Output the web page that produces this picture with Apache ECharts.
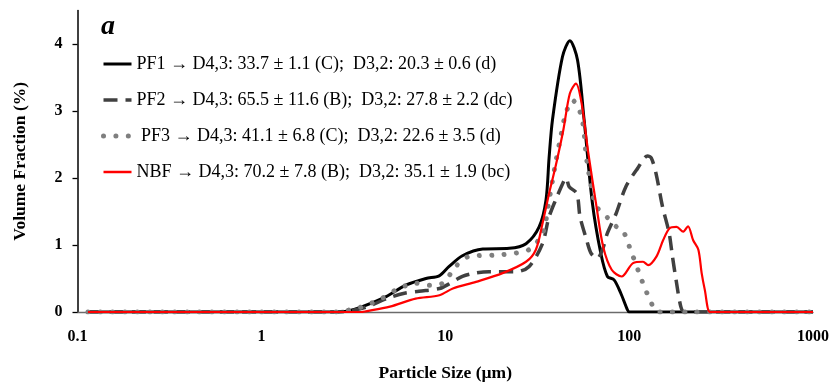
<!DOCTYPE html>
<html>
<head>
<meta charset="utf-8">
<script src="https://cdn.jsdelivr.net/npm/echarts@6/dist/echarts.min.js"></script>
<style>
html,body{margin:0;padding:0;background:#fff;}
#chart{width:832px;height:382px;}
</style>
</head>
<body>
<div id="chart"></div>
<script>
// ---- data ----
const seriesNames = [
  'PF1 \u2192 D4,3: 33.7 \u00b1 1.1 (C);  D3,2: 20.3 \u00b1 0.6 (d)',
  'PF2 \u2192 D4,3: 65.5 \u00b1 11.6 (B);  D3,2: 27.8 \u00b1 2.2 (dc)',
  ' PF3 \u2192 D4,3: 41.1 \u00b1 6.8 (C);  D3,2: 22.6 \u00b1 3.5 (d)',
  'NBF \u2192 D4,3: 70.2 \u00b1 7.8 (B);  D3,2: 35.1 \u00b1 1.9 (bc)'
];
const xTickLabels = ['0.1', '1', '10', '100', '1000'];
const yTickValues = [0, 1, 2, 3, 4];

const pf1Size = [0.114, 2.6, 3.0, 3.54, 4.77, 6.1, 7.85, 9.27, 10.5, 12.4, 16.0, 22.3, 27.5, 32.4, 35.3, 36.7, 38.3, 43.4, 47.6, 52.4, 56.9, 63.1, 70.1, 76.2, 82.8, 90.1, 98, 100, 110, 1000];
const pf1Vol  = [0, 0, 0.02, 0.08, 0.23, 0.40, 0.50, 0.54, 0.68, 0.84, 0.94, 0.95, 1.02, 1.27, 1.67, 2.30, 2.87, 3.81, 4.05, 3.76, 2.87, 1.63, 0.88, 0.53, 0.48, 0.28, 0.03, 0, 0, 0];

const pf2Size = [0.114, 2.6, 3.2, 3.8, 4.8, 6.0, 7.2, 9.3, 10.5, 12.4, 14.5, 17.3, 24.2, 28.6, 33.8, 36.5, 39.8, 44.4, 45.4, 47.2, 51.9, 54.1, 58.8, 62, 67, 72, 76, 85, 96, 111, 126, 132, 140, 152, 165, 172, 180, 191, 200, 220, 1000];
const pf2Vol  = [0, 0, 0.03, 0.08, 0.2, 0.28, 0.31, 0.35, 0.42, 0.53, 0.58, 0.60, 0.60, 0.68, 1.02, 1.4, 1.67, 1.97, 2.0, 1.87, 1.77, 1.42, 1.07, 0.88, 0.80, 0.95, 1.17, 1.47, 1.87, 2.14, 2.33, 2.3, 2.07, 1.57, 1.18, 0.83, 0.48, 0.08, 0, 0, 0];

const pf3Size = [0.114, 2.5, 3.0, 3.54, 4.5, 5.4, 6.9, 8.2, 9.7, 11.4, 13.5, 18.8, 24.2, 28.5, 33.8, 36.7, 39.8, 42.5, 45.3, 49.2, 55.2, 58.8, 63.8, 66.5, 75.5, 85.5, 93, 98.9, 105, 114.5, 122, 130, 138, 145, 160, 1000];
const pf3Vol  = [0, 0, 0.03, 0.08, 0.2, 0.33, 0.43, 0.40, 0.43, 0.68, 0.83, 0.85, 0.88, 0.93, 1.17, 1.67, 2.22, 2.62, 2.97, 3.16, 2.91, 2.27, 1.72, 1.57, 1.42, 1.27, 1.20, 1.02, 0.83, 0.55, 0.35, 0.18, 0.03, 0, 0, 0];

const nbfSize = [0.114, 3.5, 3.7, 5.0, 6.9, 9.3, 11, 14.7, 20.5, 27.5, 31.1, 33.8, 36.7, 39.8, 43.9, 47.6, 51.4, 55.2, 60, 66.5, 72.3, 80.4, 91, 105, 119, 127, 141, 153, 166, 181, 197, 209, 223, 238, 248, 258, 275, 300, 1000];
const nbfVol  = [0, 0, 0.01, 0.08, 0.2, 0.25, 0.35, 0.45, 0.58, 0.75, 0.93, 1.32, 1.77, 2.17, 2.72, 3.26, 3.41, 3.11, 2.37, 1.57, 0.97, 0.63, 0.53, 0.73, 0.75, 0.70, 0.83, 1.07, 1.25, 1.27, 1.20, 1.28, 1.07, 0.93, 0.58, 0.33, 0, 0, 0];

function pairs(xs, ys) { return xs.map((x, i) => [x, ys[i]]); }

const serif = 'Liberation Serif';
const chart = echarts.init(document.getElementById('chart'), null, {renderer: 'canvas'});

const legendWidths = [3, 3.5, 5, 2.5];

chart.setOption({
  animation: false,
  backgroundColor: '#fff',
  title: {
    text: 'a',
    left: 96,
    top: 8,
    textStyle: {fontFamily: serif, fontStyle: 'italic', fontWeight: 'bold', fontSize: 28, color: '#000'}
  },
  grid: {left: 77.5, right: 19, top: 10.5, bottom: 70, containLabel: false, outerBoundsMode: 'none'},
  legend: {
    orient: 'vertical',
    left: 101,
    top: 54,
    padding: 0,
    itemWidth: 28,
    itemHeight: 14,
    itemGap: 16,
    data: seriesNames.map((n, i) => ({name: n, lineStyle: {width: legendWidths[i]}})),
    itemStyle: {opacity: 0},
    textStyle: {fontFamily: serif, fontSize: 18, color: '#000', lineHeight: 20}
  },
  xAxis: {
    type: 'log',
    logBase: 10,
    min: 0.1,
    max: 1000,
    name: 'Particle Size (\u00b5m)',
    nameLocation: 'middle',
    nameGap: 52,
    nameTextStyle: {fontFamily: serif, fontWeight: 'bold', fontSize: 17.5, color: '#000'},
    axisLine: {show: true, onZero: false, lineStyle: {color: '#6b6b6b', width: 1.3}},
    axisTick: {show: false},
    splitLine: {show: false},
    minorTick: {show: false},
    axisLabel: {
      margin: 17,
      fontFamily: serif, fontWeight: 'bold', fontSize: 16, color: '#000',
      formatter: function (v) {
        const i = Math.round(Math.log10(v)) + 1;
        return xTickLabels[i] !== undefined ? xTickLabels[i] : '';
      }
    }
  },
  yAxis: {
    type: 'value',
    min: 0,
    max: 4.5,
    interval: 1,
    name: 'Volume Fraction (%)',
    nameLocation: 'middle',
    nameGap: 48,
    nameTextStyle: {fontFamily: serif, fontWeight: 'bold', fontSize: 17.5, color: '#000'},
    axisLine: {show: true, lineStyle: {color: '#000', width: 1.5}},
    axisTick: {show: true, length: 5, customValues: yTickValues, lineStyle: {color: '#000', width: 1.3}},
    splitLine: {show: false},
    axisLabel: {
      margin: 15,
      customValues: yTickValues,
      fontFamily: serif, fontWeight: 'bold', fontSize: 16, color: '#000'
    }
  },
  series: [
    {
      name: seriesNames[0], type: 'line', data: pairs(pf1Size, pf1Vol),
      showSymbol: false, symbol: 'none', smooth: 0.3, z: 2,
      lineStyle: {color: '#000', width: 3}, itemStyle: {color: '#000'}
    },
    {
      name: seriesNames[1], type: 'line', data: pairs(pf2Size, pf2Vol),
      showSymbol: false, symbol: 'none', smooth: 0.3, z: 3,
      lineStyle: {color: '#404040', width: 3.5, type: [14, 8]}, itemStyle: {color: '#404040'}
    },
    {
      name: seriesNames[2], type: 'line', data: pairs(pf3Size, pf3Vol),
      showSymbol: false, symbol: 'none', smooth: 0.3, z: 4,
      lineStyle: {color: '#7f7f7f', width: 5, type: [0.01, 12.4], cap: 'round'}, itemStyle: {color: '#7f7f7f'}
    },
    {
      name: seriesNames[3], type: 'line', data: pairs(nbfSize, nbfVol),
      showSymbol: false, symbol: 'none', smooth: 0.3, z: 5,
      lineStyle: {color: '#ff0000', width: 2.2}, itemStyle: {color: '#ff0000'}
    }
  ]
});
</script>
</body>
</html>
